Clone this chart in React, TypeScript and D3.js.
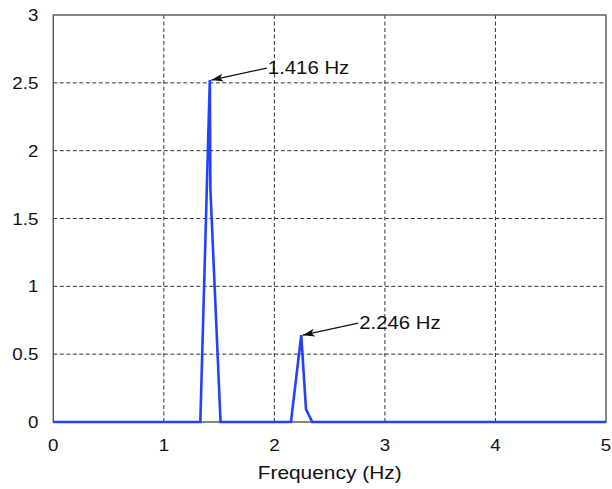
import React from "react";
import * as d3 from "d3";

const freqHz = [0, 1.33, 1.416, 1.421, 1.513, 2.15, 2.243, 2.286, 2.343, 5];
const amplitude = [0, 0, 2.52, 1.72, 0, 0, 0.64, 0.094, 0, 0];
const xTicks = [0, 1, 2, 3, 4, 5];
const yTicks = [0, 0.5, 1, 1.5, 2, 2.5, 3];
const yTickLabels = ["0", "0.5", "1", "1.5", "2", "2.5", "3"];
const peakFreqs = [1.416, 2.243];
const peakVals = [2.52, 0.64];
const peakLabels = ["1.416 Hz", "2.246 Hz"];

const W = 612;
const H = 489;
const M = { left: 53.3, right: 6, top: 15, bottom: 67 };

export default function App() {
  const x = d3.scaleLinear().domain([0, 5]).range([M.left, W - M.right]);
  const y = d3.scaleLinear().domain([0, 3]).range([H - M.bottom, M.top]);
  const pts: [number, number][] = freqHz.map((f, i) => [f, amplitude[i]]);
  const line = d3
    .line<[number, number]>()
    .x((d) => x(d[0]))
    .y((d) => y(d[1]));
  const font = "Liberation Sans, Arial, sans-serif";
  const sx = 1.1;
  const txt = (
    key: string,
    tx: number,
    ty: number,
    s: string,
    size: number,
    anchor: "start" | "middle" | "end"
  ) => (
    <text
      key={key}
      transform={`translate(${tx},${ty}) scale(${sx},1)`}
      fontFamily={font}
      fontSize={size}
      textAnchor={anchor}
      fill="#111"
    >
      {s}
    </text>
  );
  const x0 = x(0), x1 = x(5), y0 = y(0), y1 = y(3);
  return (
    <svg
      width={W}
      height={H}
      style={{ position: "absolute", left: 0, top: 0, background: "#fff" }}
    >
      <defs>
        <marker
          id="arr"
          viewBox="0 0 12 8"
          refX="12"
          refY="4"
          markerWidth="12"
          markerHeight="8"
          markerUnits="userSpaceOnUse"
          orient="auto"
        >
          <path d="M0,0 L12,4 L0,8 L3,4 Z" fill="#111" />
        </marker>
      </defs>
      {xTicks.slice(1, -1).map((t) => (
        <line
          key={"gx" + t}
          x1={x(t)}
          x2={x(t)}
          y1={y0}
          y2={y1}
          stroke="#333"
          strokeWidth={1}
          strokeDasharray="4,2.5"
        />
      ))}
      {yTicks.slice(1, -1).map((t) => (
        <line
          key={"gy" + t}
          x1={x0}
          x2={x1}
          y1={y(t)}
          y2={y(t)}
          stroke="#333"
          strokeWidth={1}
          strokeDasharray="4,2.5"
        />
      ))}
      <rect
        x={x0}
        y={y1}
        width={x1 - x0}
        height={y0 - y1}
        fill="none"
        stroke="#555"
        strokeWidth={1.4}
      />
      <path
        d={line(pts) || ""}
        fill="none"
        stroke="#2340ff"
        strokeWidth={2.6}
        strokeLinejoin="miter"
      />
      {yTicks.map((t, i) => txt("yl" + t, x0 - 15, y(t) + 6, yTickLabels[i], 17, "end"))}
      {xTicks.map((t) => txt("xl" + t, x(t), y0 + 29, String(t), 17, "middle"))}
      {txt("title", (x0 + x1) / 2, H - 10, "Frequency (Hz)", 19, "middle")}
      {peakFreqs.map((f, i) => (
        <g key={"ann" + i}>
          <line
            x1={x(f) + 57}
            y1={y(peakVals[i]) - 12}
            x2={x(f) + 1.5}
            y2={y(peakVals[i])}
            stroke="#111"
            strokeWidth={1.2}
            markerEnd="url(#arr)"
          />
          {txt("at" + i, x(f) + 58, y(peakVals[i]) - 6, peakLabels[i], 18.5, "start")}
        </g>
      ))}
    </svg>
  );
}
